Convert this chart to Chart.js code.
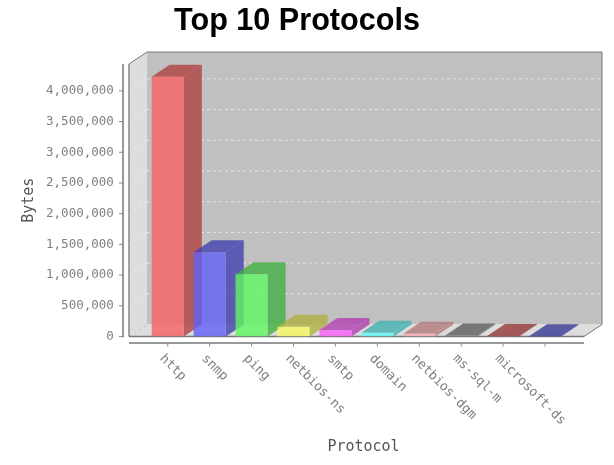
<!DOCTYPE html>
<html>
<head>
<meta charset="utf-8">
<script src="https://cdn.jsdelivr.net/npm/chart.js@4"></script>
<style>
html, body { margin: 0; padding: 0; background: #fff; overflow: hidden; }
canvas { display: block; }
</style>
</head>
<body>
<canvas id="protocols" width="614" height="465"></canvas>
<script>
const protocols = ['http', 'snmp', 'ping', 'netbios-ns', 'smtp', 'domain', 'netbios-dgm', 'ms-sql-m', 'microsoft-ds', ''];
const bytes = [4230000, 1370000, 1013000, 160000, 105000, 62000, 45000, 15000, 10000, 6000];
const yTicks = [0, 500000, 1000000, 1500000, 2000000, 2500000, 3000000, 3500000, 4000000];
const frontColors = ['#F86060', '#6060F8', '#60F860', '#F8F860', '#F860F8', '#60F8F8', '#F8AFAF', '#808080', '#C04040', '#4040C0'];
const sideColors = ['#AF4141', '#4141AF', '#41AF41', '#AFAF41', '#AF41AF', '#41AFAF', '#B27A7A', '#5E5E5E', '#963838', '#383896'];
const yMax = 4437000;

const depthX = 18, depthY = 12;
const tickFont = '13px "DejaVu Sans Mono"';

// walls, floor and the 3d sides of the bars, the chart has no 3d mode so it is done here
const plot3d = {
	id: 'plot3d',
	beforeDatasetsDraw(chart) {
		const c = chart.ctx, x = chart.scales.x, y = chart.scales.y;
		const top = chart.chartArea.top, bottom = chart.chartArea.bottom;
		const left = 129, right = 584;

		function poly(pts, fill) {
			c.beginPath();
			pts.forEach((p, i) => i ? c.lineTo(p[0], p[1]) : c.moveTo(p[0], p[1]));
			c.closePath();
			c.fillStyle = fill;
			c.fill();
		}
		function line(x1, y1, x2, y2, color, w) {
			c.beginPath();
			c.moveTo(x1, y1);
			c.lineTo(x2, y2);
			c.strokeStyle = color;
			c.lineWidth = w;
			c.stroke();
		}

		c.save();
		poly([[left + depthX, top - depthY], [right + depthX, top - depthY], [right + depthX, bottom - depthY], [left + depthX, bottom - depthY]], '#C0C0C0');
		poly([[left, top], [left + depthX, top - depthY], [left + depthX, bottom - depthY], [left, bottom]], '#DDDDDD');
		poly([[left, bottom], [left + depthX, bottom - depthY], [right + depthX, bottom - depthY], [right, bottom]], '#DDDDDD');

		// dashed grid on the back wall, running down the left wall
		c.setLineDash([3, 3]);
		y.ticks.forEach(t => {
			const py = y.getPixelForValue(t.value);
			if (t.value === 0) {
				line(left, py, left + depthX, py - depthY, '#C8C8C8', 1);
				return;
			}
			line(left, py, left + depthX, py - depthY, '#EEEEEE', 1);
			line(left + depthX, py - depthY, right + depthX, py - depthY, '#E4E4E4', 1);
		});
		c.setLineDash([]);

		// frame
		line(left, bottom, left, top, '#888888', 1.5);
		line(left, top, left + depthX, top - depthY, '#777777', 1);
		line(left + depthX, top - depthY, right + depthX, top - depthY, '#777777', 1);
		line(right + depthX, top - depthY, right + depthX, bottom - depthY, '#777777', 1);
		line(right + depthX, bottom - depthY, right, bottom, '#777777', 1);
		line(left, bottom, right, bottom, '#777777', 1.5);

		// axis lines and ticks
		line(123, top, 123, bottom + 1, '#999999', 2);
		y.ticks.forEach(t => {
			const py = y.getPixelForValue(t.value);
			line(119, py, 123, py, '#888888', 1);
		});
		line(left, bottom + 6.5, right, bottom + 6.5, '#999999', 2);
		protocols.forEach((p, i) => {
			const px = x.getPixelForValue(i);
			line(px, bottom + 7, px, bottom + 10, '#888888', 1);
		});

		// bar sides, the fronts are drawn over them by the bar controller
		chart.getDatasetMeta(0).data.forEach((bar, i) => {
			const l = bar.x - bar.width / 2, r = bar.x + bar.width / 2;
			c.globalAlpha = 0.8;
			poly([[r, bar.y], [r + depthX, bar.y - depthY], [r + depthX, bar.base - depthY], [r, bar.base]], sideColors[i]);
			poly([[l, bar.y], [l + depthX, bar.y - depthY], [r + depthX, bar.y - depthY], [r, bar.y]], sideColors[i]);
			c.globalAlpha = 1;
		});
		c.restore();
	},
	afterDraw(chart) {
		const c = chart.ctx, x = chart.scales.x;
		const bottom = chart.chartArea.bottom;
		c.save();
		c.font = tickFont;
		c.fillStyle = '#808080';
		c.textAlign = 'left';
		c.textBaseline = 'middle';
		protocols.forEach((p, i) => {
			c.save();
			c.translate(x.getPixelForValue(i) - 6, bottom + 20);
			c.rotate(Math.PI / 4);
			c.fillText(p, 0, 0);
			c.restore();
		});
		c.font = '15px "DejaVu Sans Mono"';
		c.fillStyle = '#555555';
		c.textAlign = 'center';
		c.fillText('Protocol', 363.5, 447);
		c.restore();
	}
};

new Chart(document.getElementById('protocols'), {
	type: 'bar',
	data: {
		labels: protocols,
		datasets: [{
			data: bytes,
			backgroundColor: frontColors.map(col => col + 'CC'),
			borderWidth: 0,
			barPercentage: 0.766,
			categoryPercentage: 1
		}]
	},
	plugins: [plot3d],
	options: {
		responsive: false,
		animation: false,
		layout: { padding: { left: 28, right: 48, top: 0, bottom: 128.5 } },
		plugins: {
			legend: { display: false },
			tooltip: { enabled: false },
			title: {
				display: true,
				text: 'Top 10 Protocols',
				color: '#000000',
				font: { family: '"Liberation Sans"', size: 30.6, weight: 'bold' },
				padding: { top: 3, bottom: 24.3 }
			}
		},
		scales: {
			x: {
				grid: { display: false, drawTicks: false },
				border: { display: false },
				ticks: { display: false, autoSkip: false },
				afterFit(scale) { scale.height = 0; }
			},
			y: {
				min: 0,
				max: yMax,
				// the auto step drifts away from 500,000 when max is not a multiple of it
				afterBuildTicks(scale) { scale.ticks = yTicks.map(v => ({ value: v })); },
				grid: { display: false, drawTicks: false },
				border: { display: false },
				ticks: {
					padding: 33,
					color: '#808080',
					font: { family: '"DejaVu Sans Mono"', size: 12.5 },
					callback: v => v.toLocaleString('en-US')
				},
				title: {
					display: true,
					text: 'Bytes',
					color: '#555555',
					font: { family: '"DejaVu Sans Mono"', size: 15 },
					padding: { top: -8, bottom: 0 }
				},
				afterFit(scale) { scale.width = 118.8; }
			}
		}
	}
});
</script>
</body>
</html>
